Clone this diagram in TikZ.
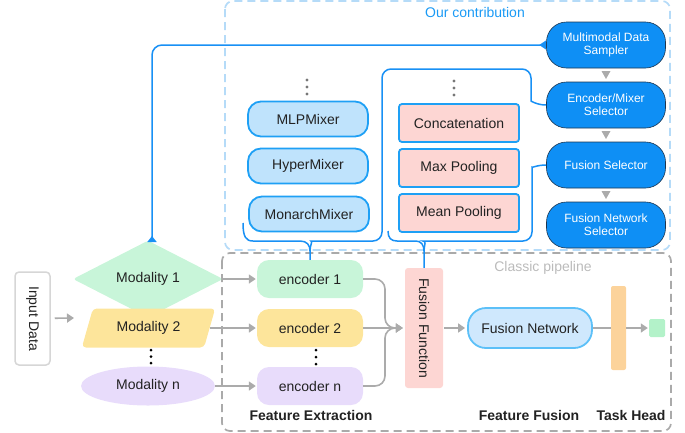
\documentclass[tikz,border=0pt]{standalone}
\usepackage{fontspec}
\setmainfont{Liberation Sans}
\usetikzlibrary{shapes.geometric,arrows.meta,calc}
\definecolor{mgreen}{HTML}{C8F5D9}
\definecolor{myellow}{HTML}{FDE59B}
\definecolor{mlav}{HTML}{E8DCFB}
\definecolor{mpink}{HTML}{FDD6D3}
\definecolor{morange}{HTML}{FCD39B}
\definecolor{msq}{HTML}{B3F2C9}
\definecolor{fnfill}{HTML}{CFE8FD}
\definecolor{fnborder}{HTML}{5CC0F8}
\definecolor{mixfill}{HTML}{BFE3FC}
\definecolor{mixborder}{HTML}{1EA0F5}
\definecolor{selblue}{HTML}{0E8FF5}
\definecolor{seldark}{HTML}{1C3550}
\definecolor{lineblue}{HTML}{1890F5}
\definecolor{arrowgray}{HTML}{ABABAB}
\definecolor{boxgray}{HTML}{AAAAAA}
\definecolor{boxblue}{HTML}{B5DBF8}
\definecolor{txtblue}{HTML}{1A9AF5}
\definecolor{txtgray}{HTML}{BBBBBB}
\definecolor{txtdark}{HTML}{222222}
\definecolor{dotgray}{HTML}{777777}
\definecolor{indborder}{HTML}{D6D6D6}
\begin{document}
\begin{tikzpicture}[x=1pt,y=-1pt,
  font=\fontsize{14}{16}\selectfont, text=txtdark,
  grayarrow/.style={draw=arrowgray, line width=1.6pt, -{Triangle[length=7pt,width=9pt]}},
  grayline/.style={draw=arrowgray, line width=1.6pt},
  blueline/.style={draw=lineblue, line width=1.5pt},
  encbox/.style={rounded corners=12pt, minimum width=106pt, minimum height=38pt, inner sep=0pt},
  mixbox/.style={draw=mixborder, fill=mixfill, line width=1.8pt, rounded corners=13pt, minimum width=120pt, minimum height=35pt, inner sep=0pt},
  fusbox/.style={draw=mixborder, fill=mpink, line width=1.8pt, rounded corners=3pt, minimum width=120pt, minimum height=38pt, inner sep=0pt},
  selbox/.style={fill=selblue, draw=seldark, line width=0.6pt, rounded corners=20pt, minimum width=119pt, minimum height=46pt, text=white, font=\fontsize{12}{13}\selectfont, align=center, inner sep=0pt},
  lbl/.style={font=\fontsize{14}{16}\selectfont\bfseries},
  dashbox/.style={line width=1.7pt, dash pattern=on 8pt off 5pt, rounded corners=8pt}
]
\useasboundingbox (0,0) rectangle (685,432);

% dashed regions
\draw[dashbox, draw=boxblue] (225,1) rectangle (670,250);
\draw[dashbox, draw=boxgray] (222,253) rectangle (671,431);
\node[text=txtblue] (ourc) at (475,12) {Our contribution};
\node[text=txtgray] (classic) at (543,268) {Classic pipeline};

% input
\node[draw=indborder, line width=1.5pt, fill=white, rounded corners=4pt, rotate=-90, minimum width=93pt, minimum height=35pt, inner sep=0pt] (indata) at (32.5,318.5) {Input Data};
\coordinate (inarrow) at (74,318);

% modalities
\node[diamond, fill=mgreen, minimum width=150pt, minimum height=42pt, inner sep=0pt, rounded corners=3pt] (mod1) at (148,279) {Modality 1};
\node[trapezium, trapezium left angle=64, trapezium right angle=116, trapezium stretches=true, fill=myellow, minimum width=134pt, minimum height=39pt, inner sep=0pt, rounded corners=4pt] (mod2) at (148.5,328) {Modality 2};
\node[ellipse, fill=mlav, minimum width=134pt, minimum height=39pt, inner sep=0pt] (modn) at (148,386) {Modality n};
\foreach \yy in {350,356.5,363} \fill[black] (151,\yy) circle (1.5pt);

% encoders
\node[encbox, fill=mgreen] (enc1) at (310,279) {encoder 1};
\node[encbox, fill=myellow] (enc2) at (310,328) {encoder 2};
\node[encbox, fill=mlav] (encn) at (310,386) {encoder n};
\foreach \yy in {350,357,364} \fill[black] (316,\yy) circle (1.5pt);

% fusion function and pipeline
\node[fill=mpink, rounded corners=3pt, rotate=-90, minimum width=120pt, minimum height=38pt, inner sep=0pt] (ff) at (424,328) {Fusion Function};
\node[draw=fnborder, fill=fnfill, line width=1.8pt, rounded corners=18pt, minimum width=124pt, minimum height=40pt, inner sep=0pt] (fnet) at (530,328) {Fusion Network};
\node[fill=morange, rounded corners=2pt, minimum width=15pt, minimum height=84pt, inner sep=0pt] (bar) at (618.5,328) {};
\node[fill=msq, rounded corners=1.5pt, minimum width=16pt, minimum height=18pt, inner sep=0pt] (sq) at (657,328) {};

\node[lbl] (lfe) at (311,415) {Feature Extraction};
\node[lbl] (lff) at (529,415) {Feature Fusion};
\node[lbl] (lth) at (631,415) {Task Head};

% mixers
\node[mixbox] (mlp) at (308,119) {MLPMixer};
\node[mixbox] (hyper) at (308,166) {HyperMixer};
\node[mixbox] (monarch) at (309,214) {MonarchMixer};
\foreach \yy in {80,87,94} \fill[dotgray] (307,\yy) circle (1.6pt);

% fusion functions
\node[fusbox] (concat) at (459,123) {Concatenation};
\node[fusbox] (maxp) at (459,168) {Max Pooling};
\node[fusbox] (meanp) at (459,213) {Mean Pooling};
\foreach \yy in {81,88,95} \fill[dotgray] (454,\yy) circle (1.6pt);

% selectors
\node[selbox] (sampler) at (606,45) {Multimodal Data\\Sampler};
\node[selbox] (emsel) at (606,105) {Encoder/Mixer\\Selector};
\node[selbox] (fsel) at (606,165) {Fusion Selector};
\node[selbox] (fnsel) at (606,225) {Fusion Network\\Selector};
\foreach \a/\b in {sampler/emsel, emsel/fsel, fsel/fnsel}
  \fill[arrowgray] ($(\a.south)!0.5!(\b.north)$) +(-4.5,-4) -- +(4.5,-4) -- +(0,4) -- cycle;

% gray connectors
\draw[grayarrow, shorten <=4pt] (indata) -- (inarrow);
\draw[grayarrow, shorten >=1pt] (mod1.east) -- (enc1.west);
\draw[grayarrow, shorten >=1pt] (mod2.east) -- (enc2.west);
\draw[grayarrow, shorten >=1pt] (modn.east) -- (encn.west);
\draw[grayarrow, rounded corners=10pt, shorten >=2pt] (enc1.east) -| (385,328) -- (ff.south);
\draw[grayarrow, shorten >=2pt] (enc2.east) -- (ff.south);
\draw[grayarrow, rounded corners=10pt, shorten >=2pt] (encn.east) -| (385,328) -- (ff.south);
\draw[grayarrow, shorten <=1pt, shorten >=2pt] (ff.north) -- (fnet.west);
\draw[grayline] (fnet.east) -- (bar.west);
\draw[grayarrow, shorten >=1pt] (bar.east) -- (sq.west);

% blue feedback line
\coordinate (fb) at (152,242);
\draw[blueline, {Triangle[reversed,length=6pt,width=9pt]}-{Triangle[reversed,length=7pt,width=9pt]}, rounded corners=10pt] (fb) |- (sampler.west);

% mixer brace
\coordinate (mbL) at (243,223);
\draw[blueline] (mbL) .. controls (243,237) and (246,241) .. (253,241) -- (300,241) .. controls (307,241) and (310,245) .. (310,251) -- (enc1.north);
\draw[blueline, rounded corners=9pt] (emsel.west) .. controls (537,105) and (531,101) .. (531,92) -- (531,69) -- (382,69) -- (382,241) -- (320,241) .. controls (313,241) and (310,245) .. (310,251);

% fusion brace
\coordinate (fbL) at (388,231);
\draw[blueline] (fbL) .. controls (388,238) and (391,241) .. (397,241) -- (416,241) .. controls (421,241) and (424,245) .. (424,251) -- (ff.west);
\draw[blueline, rounded corners=9pt] (fsel.west) .. controls (537,165) and (532,168) .. (532,176) -- (532,241) -- (432,241) .. controls (427,241) and (424,245) .. (424,251);
\end{tikzpicture}
\end{document}
